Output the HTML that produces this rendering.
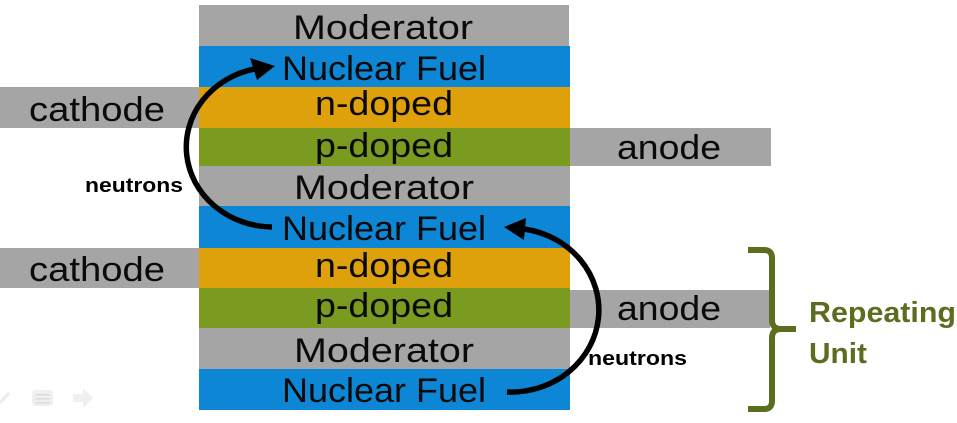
<!DOCTYPE html>
<html>
<head>
<meta charset="utf-8">
<style>
html,body{margin:0;padding:0;background:#fff;}
svg{display:block;}
.t{font-family:"Liberation Sans",sans-serif;font-size:34px;fill:#0a0a0a;}
.n{font-family:"Liberation Sans",sans-serif;font-size:20px;font-weight:bold;fill:#000;}
.g{font-family:"Liberation Sans",sans-serif;font-size:29px;font-weight:bold;fill:#5b6d1e;}
</style>
</head>
<body>
<svg width="957" height="423" viewBox="0 0 957 423" xmlns="http://www.w3.org/2000/svg">
  <!-- side bars -->
  <rect x="0" y="87" width="199" height="41" fill="#a5a5a5"/>
  <rect x="0" y="248" width="199" height="40" fill="#a5a5a5"/>
  <rect x="570" y="128" width="201" height="38" fill="#a5a5a5"/>
  <rect x="570" y="290" width="200" height="38" fill="#a5a5a5"/>

  <!-- main column -->
  <rect x="199" y="5" width="370" height="41" fill="#a5a5a5"/>
  <rect x="199" y="46" width="371" height="41" fill="#0d87d5"/>
  <rect x="199" y="87" width="371" height="41" fill="#dea00b"/>
  <rect x="199" y="128" width="371" height="38" fill="#7a9b1f"/>
  <rect x="199" y="166" width="371" height="40" fill="#a5a5a5"/>
  <rect x="199" y="206" width="371" height="42" fill="#0d87d5"/>
  <rect x="199" y="248" width="371" height="40" fill="#dea00b"/>
  <rect x="199" y="288" width="371" height="40" fill="#7a9b1f"/>
  <rect x="199" y="328" width="371" height="41" fill="#a5a5a5"/>
  <rect x="199" y="369" width="371" height="41" fill="#0d87d5"/>

  <!-- main labels -->
  <text class="t" x="383" y="39" text-anchor="middle" textLength="180" lengthAdjust="spacingAndGlyphs">Moderator</text>
  <text class="t" x="384" y="80" text-anchor="middle" textLength="204" lengthAdjust="spacingAndGlyphs">Nuclear Fuel</text>
  <text class="t" x="384" y="115" text-anchor="middle" textLength="138" lengthAdjust="spacingAndGlyphs">n-doped</text>
  <text class="t" x="384" y="157" text-anchor="middle" textLength="138" lengthAdjust="spacingAndGlyphs">p-doped</text>
  <text class="t" x="384" y="199" text-anchor="middle" textLength="180" lengthAdjust="spacingAndGlyphs">Moderator</text>
  <text class="t" x="384" y="240" text-anchor="middle" textLength="204" lengthAdjust="spacingAndGlyphs">Nuclear Fuel</text>
  <text class="t" x="384" y="277" text-anchor="middle" textLength="138" lengthAdjust="spacingAndGlyphs">n-doped</text>
  <text class="t" x="384" y="317" text-anchor="middle" textLength="138" lengthAdjust="spacingAndGlyphs">p-doped</text>
  <text class="t" x="384" y="362" text-anchor="middle" textLength="180" lengthAdjust="spacingAndGlyphs">Moderator</text>
  <text class="t" x="384" y="402" text-anchor="middle" textLength="204" lengthAdjust="spacingAndGlyphs">Nuclear Fuel</text>

  <!-- side labels -->
  <text class="t" x="97" y="121" text-anchor="middle" textLength="136" lengthAdjust="spacingAndGlyphs">cathode</text>
  <text class="t" x="97" y="281" text-anchor="middle" textLength="136" lengthAdjust="spacingAndGlyphs">cathode</text>
  <text class="t" x="669" y="159" text-anchor="middle" textLength="104" lengthAdjust="spacingAndGlyphs">anode</text>
  <text class="t" x="669" y="320" text-anchor="middle" textLength="104" lengthAdjust="spacingAndGlyphs">anode</text>

  <!-- arrows -->
  <path d="M272,227 A87,80 0 0 1 254,69" fill="none" stroke="#000" stroke-width="5.5"/>
  <polygon points="275,66 250,58 257,80" fill="#000"/>
  <path d="M507,392 A88,82 0 0 0 524,229" fill="none" stroke="#000" stroke-width="5.5"/>
  <polygon points="504,227 526,218 524,240" fill="#000"/>

  <text class="n" x="85" y="192" textLength="98" lengthAdjust="spacingAndGlyphs">neutrons</text>
  <text class="n" x="588" y="365" textLength="99" lengthAdjust="spacingAndGlyphs">neutrons</text>

  <!-- bracket -->
  <path d="M748,250 L764,250 Q772,250 772,258 L772,320 Q772,329 781,329 L796,329 M781,329 Q772,329 772,338 L772,401 Q772,409 764,409 L748,409" fill="none" stroke="#5b6d1e" stroke-width="6"/>
  <text class="g" x="809" y="322" textLength="147" lengthAdjust="spacingAndGlyphs">Repeating</text>
  <text class="g" x="809" y="363" textLength="58" lengthAdjust="spacingAndGlyphs">Unit</text>

  <!-- faint toolbar icons -->
  <path d="M0,403 L9,393" stroke="#ececec" stroke-width="3"/>
  <rect x="32" y="390" width="21" height="16" rx="3" fill="#f0f0f0"/>
  <rect x="35" y="394" width="15" height="1.5" fill="#dcdcdc"/>
  <rect x="35" y="398" width="15" height="1.5" fill="#dcdcdc"/>
  <rect x="35" y="402" width="15" height="1.5" fill="#dcdcdc"/>
  <polygon points="73,394 83,394 83,388 93,398 83,408 83,402 73,402" fill="#efefef"/>
</svg>
</body>
</html>
